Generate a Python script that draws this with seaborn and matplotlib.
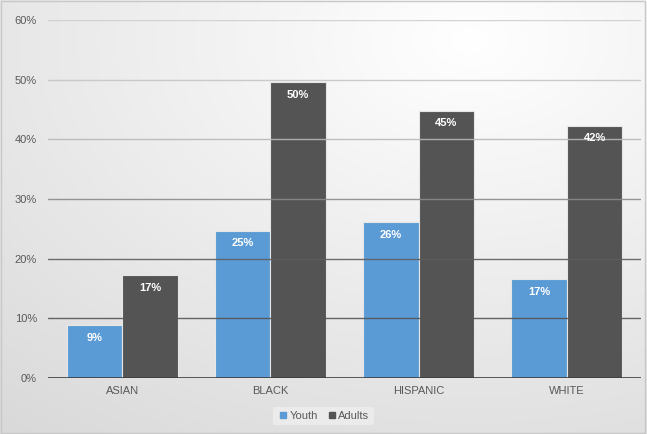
import numpy as np
import pandas as pd
import matplotlib
matplotlib.use("Agg")
import matplotlib.pyplot as plt
import seaborn as sns

categories = ["ASIAN", "BLACK", "HISPANIC", "WHITE"]
youth = [8.9, 24.7, 26.1, 16.6]
adults = [17.3, 49.6, 44.8, 42.3]
series = ["Youth", "Adults"]
yticks = [0, 10, 20, 30, 40, 50, 60]

df = pd.DataFrame({
    "cat": categories * 2,
    "series": ["Youth"] * 4 + ["Adults"] * 4,
    "val": youth + adults,
})

sns.set_theme(style="white")
plt.rcParams["font.family"] = ["Liberation Sans", "DejaVu Sans"]

W, H = 647, 434
fig = plt.figure(figsize=(W / 100, H / 100), dpi=100)

# background gradient
bg = fig.add_axes([0, 0, 1, 1], zorder=-10)
yy, xx = np.mgrid[0:H, 0:W]
d = np.sqrt(((xx - 470) / W) ** 2 + ((yy - 40) / H) ** 2)
d = d / d.max()
v = 1.0 - 0.15 * d
img = np.dstack([v, v, v])
bg.imshow(img, extent=[0, 1, 0, 1], aspect="auto", origin="upper")
bg.set_axis_off()
bg.add_patch(plt.Rectangle((0.002, 0.002), 0.995, 0.995, transform=bg.transAxes,
                           fill=False, edgecolor="#c8c8c8", lw=1))

ax = fig.add_axes([48 / W, 1 - 378 / H, (641 - 48) / W, (378 - 20) / H])
ax.patch.set_alpha(0)
palette = {"Youth": "#5b9bd5", "Adults": "#545454"}
sns.barplot(data=df, x="cat", y="val", hue="series", order=categories,
            hue_order=series, palette=palette, width=0.75, ax=ax,
            edgecolor="#e6e6e6", linewidth=0.8, saturation=1, legend=False,
            zorder=2)

grid_colors = ["#3a3a3a", "#555555", "#5e5e5e", "#8a8a8a", "#b8b8b8", "#c6c6c6", "#cfcfcf"]
for t, c in zip(yticks, grid_colors):
    ax.axhline(t, color=c, lw=1.3 if t == 0 else 1.0, zorder=3, alpha=0.9)

ax.set_ylim(0, 60)
ax.set_xlim(-0.5, 3.5)
ax.set_yticks(yticks)
ax.set_yticklabels([f"{t}%" for t in yticks], fontsize=8, color="#595959")
ax.tick_params(axis="y", length=0, pad=8)
ax.tick_params(axis="x", length=0, pad=6, labelsize=8, labelcolor="#595959")
ax.set_xlabel("")
ax.set_ylabel("")
for s in ax.spines.values():
    s.set_visible(False)

for cont in ax.containers:
    for bar in cont:
        h = bar.get_height()
        ax.text(bar.get_x() + bar.get_width() / 2, h - 1.3, f"{round(h):.0f}%",
                ha="center", va="top", color="white", fontsize=8,
                fontweight="bold", zorder=4)

from matplotlib.lines import Line2D
handles = [Line2D([], [], marker="s", linestyle="", markersize=5,
                  markerfacecolor=palette[s], markeredgecolor=palette[s]) for s in series]
leg = fig.legend(handles, series, loc="center", bbox_to_anchor=(0.5, 1 - 416 / H),
                 ncol=2, frameon=True, fontsize=8, handletextpad=0.05,
                 columnspacing=0.8, borderpad=0.4, handlelength=1.0)
leg.get_frame().set_facecolor("#eeeeee")
leg.get_frame().set_edgecolor("none")
leg.get_frame().set_alpha(0.8)
for t in leg.get_texts():
    t.set_color("#595959")

fig.savefig("out.png", dpi=100)
